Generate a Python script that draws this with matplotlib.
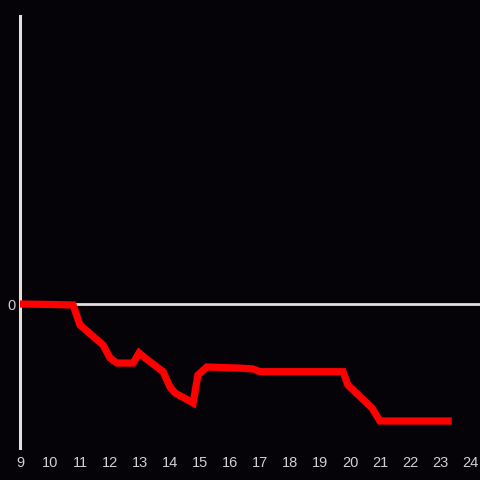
import matplotlib
matplotlib.use("Agg")
import matplotlib.pyplot as plt

x_vals = [9.0, 10.0, 10.77, 11.0, 11.77, 12.0, 12.23, 12.77, 12.97, 13.17, 13.77,
          14.0, 14.17, 14.77, 14.93, 15.23, 16.33, 16.77, 17.0, 19.77, 19.93,
          20.73, 21.0, 23.27]
y_vals = [0.0, -0.003, -0.007, -0.146, -0.285, -0.375, -0.41, -0.41, -0.34, -0.375,
          -0.47, -0.576, -0.618, -0.6875, -0.493, -0.4375, -0.445, -0.451, -0.47,
          -0.47, -0.5625, -0.722, -0.8125, -0.8125]
x_ticks = list(range(9, 25))
y_ticks = [0]

bg = "#050307"
fig = plt.figure(figsize=(4.8, 4.8), dpi=100, facecolor=bg)
ax = fig.add_axes([20/480, 32/480, 460/480, 432/480], facecolor=bg)
ax.set_xlim(9, 24 + 10/30)
ax.set_ylim(-1, 2)

ax.axhline(0, color="#e0e0e0", lw=2.0, zorder=1)
ax.plot(x_vals, y_vals, color="#ff0000", lw=5.2, solid_joinstyle="miter", zorder=3)

for s in ["top", "right", "bottom"]:
    ax.spines[s].set_visible(False)
ax.spines["left"].set_color("#e0e0e0")
ax.spines["left"].set_linewidth(2.2)

ax.set_xticks(x_ticks)
ax.set_xticklabels([str(t) for t in x_ticks])
ax.set_yticks(y_ticks)
ax.set_yticklabels(["0"])
ax.tick_params(axis="both", length=0, colors="#d0d0d0", labelsize=10.5)
ax.tick_params(axis="x", pad=6)
ax.tick_params(axis="y", pad=3)
for lbl in ax.get_xticklabels() + ax.get_yticklabels():
    lbl.set_family("Liberation Sans")

fig.savefig("out.png", dpi=100, facecolor=bg)
